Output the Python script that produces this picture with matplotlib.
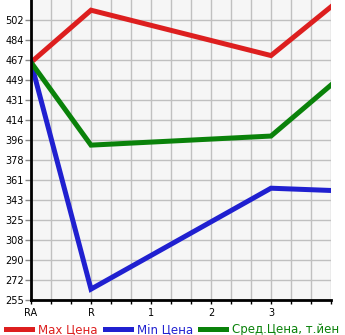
import matplotlib
matplotlib.use('Agg')
import matplotlib.pyplot as plt
import matplotlib.transforms as mtransforms
import numpy as np

# Категории по оси X (последняя позиция без подписи)
categories = ['RA', 'R', '1', '2', '3']
x_pos = [0, 1, 4, 5]

max_price = [465, 511, 471, 514]
min_price = [465, 265, 354, 352]
avg_price = [465, 392, 400, 445]

ytick_labels = ['255', '272', '290', '308', '325', '343', '361', '378',
                '396', '414', '431', '449', '467', '484', '502']

ymin, ystep = 255.4, 17.64

fig = plt.figure(figsize=(3.45, 3.35), dpi=100)
ax = fig.add_axes([31/345, 35/335, 300/345, 300/335])
ax.set_facecolor('#f6f6f6')

ax.plot(x_pos, max_price, color='#dd1f1f', linewidth=3.6, label='Max Цена', solid_joinstyle='miter')
ax.plot(x_pos, min_price, color='#2020d0', linewidth=3.6, label='Min Цена', solid_joinstyle='miter')
ax.plot(x_pos, avg_price, color='#0a820a', linewidth=3.6, label='Сред.Цена, т.йен', solid_joinstyle='miter')

ax.set_xlim(0, 5)
ax.set_ylim(ymin, ymin + 15 * ystep)

ax.set_xticks(range(len(categories)))
ax.set_xticklabels(categories, fontsize=7)
ax.set_xticks(np.arange(0, 5.01, 1/3), minor=True)
yt = [ymin + i * ystep for i in range(15)]
ax.set_yticks(yt)
ax.set_yticklabels(ytick_labels, fontsize=7)

offset = mtransforms.ScaledTranslation(0, 3/100, fig.dpi_scale_trans)
for lab in ax.get_yticklabels():
    lab.set_transform(lab.get_transform() + offset)

ax.grid(True, which='both', color='#c0c0c0', linewidth=1)
ax.set_axisbelow(True)
ax.tick_params(axis='x', which='both', length=3, width=1, pad=3)
ax.tick_params(axis='y', length=4, width=1, color='#888888', pad=1)

for s in ['top', 'right']:
    ax.spines[s].set_visible(False)
for s in ['left', 'bottom']:
    ax.spines[s].set_linewidth(2)
    ax.spines[s].set_color('black')

fig.legend(loc='lower center', ncol=3, frameon=False, fontsize=8.5,
           handlelength=2.2, handletextpad=0.5, columnspacing=0.6,
           labelcolor='linecolor', bbox_to_anchor=(0.5, -0.025), borderaxespad=0.2)

fig.savefig('out.png', dpi=100)
